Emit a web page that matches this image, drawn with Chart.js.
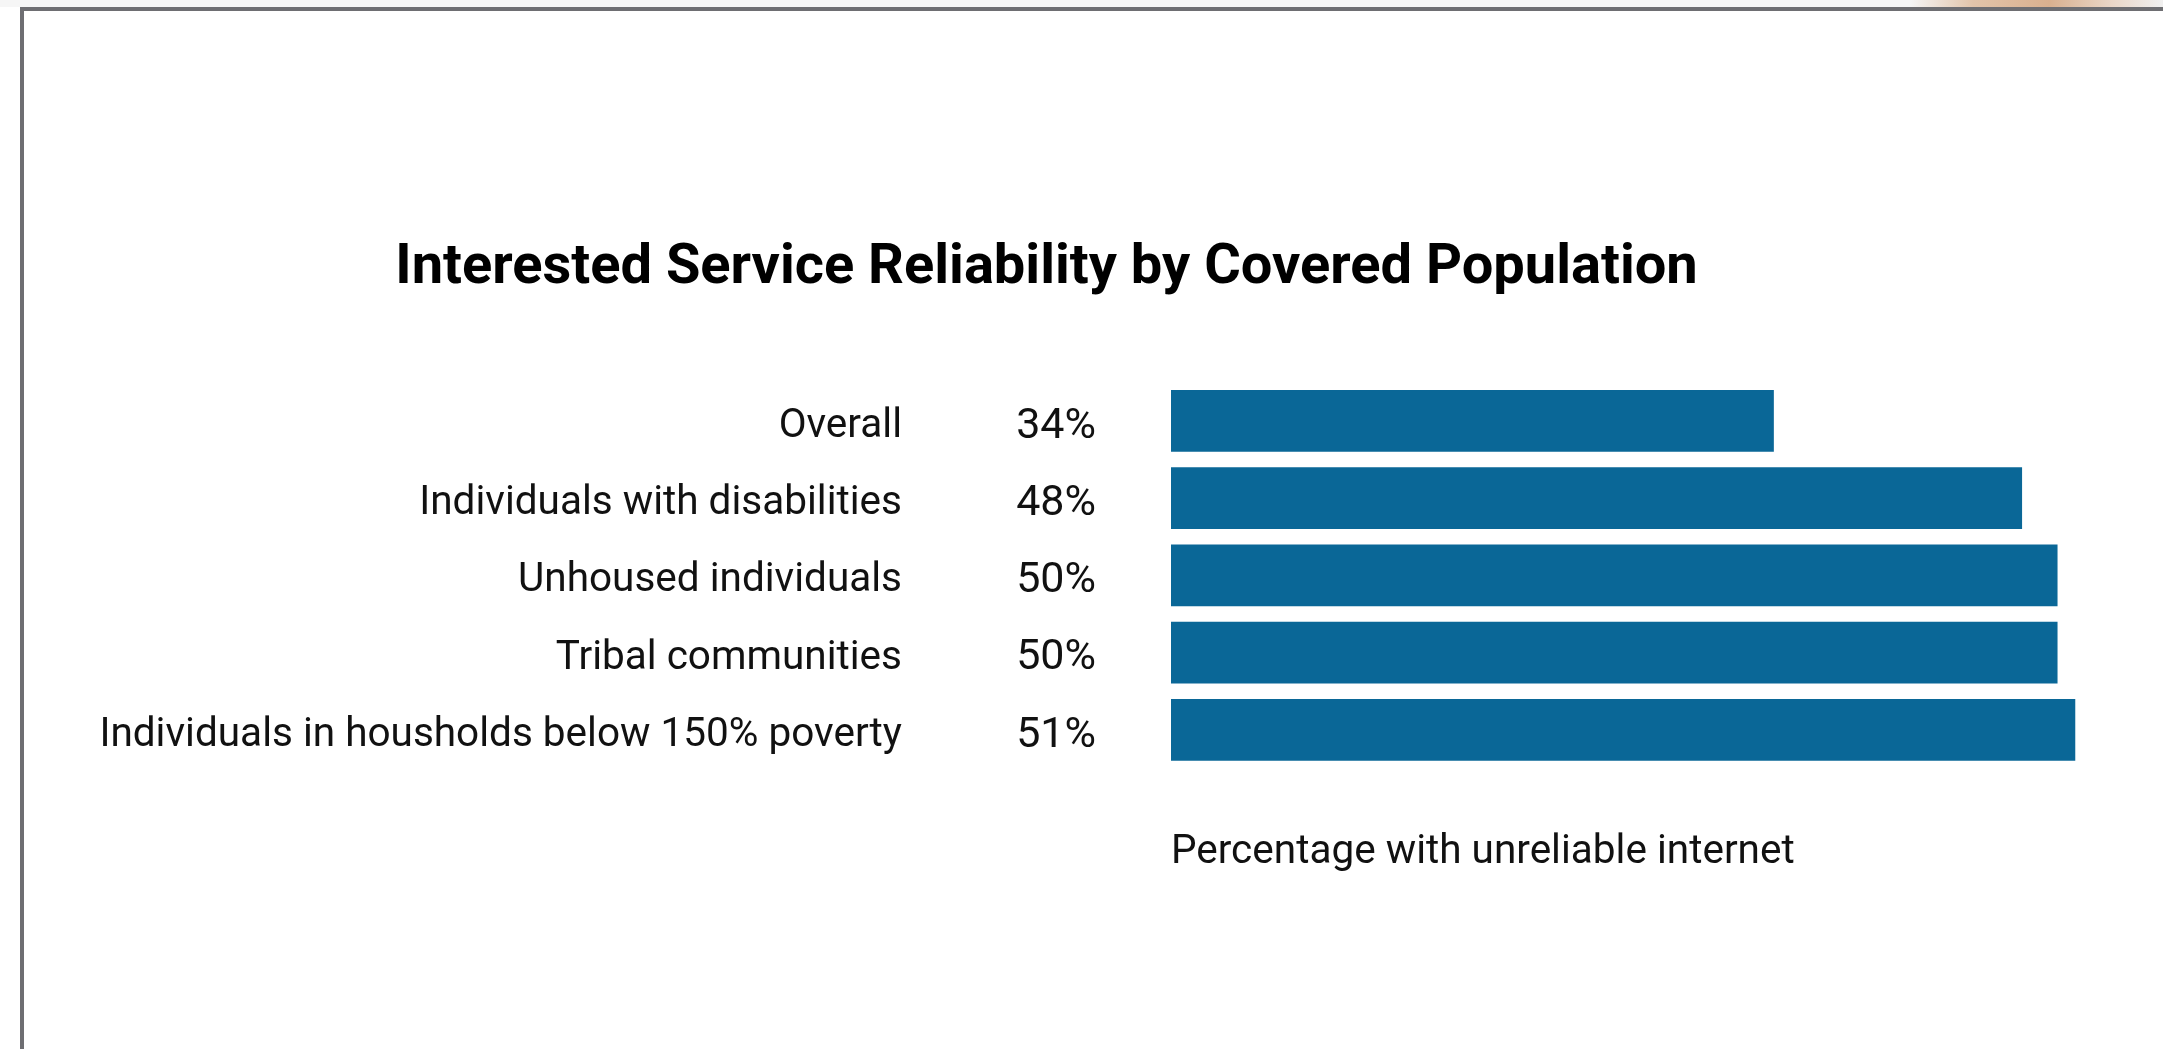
<!DOCTYPE html>
<html>
<head>
<meta charset="utf-8">
<script src="https://cdn.jsdelivr.net/npm/chart.js@4.4.1/dist/chart.umd.min.js"></script>
<style>
  html, body { margin: 0; padding: 0; background: #fff; }
  body { width: 2163px; height: 1049px; position: relative; overflow: hidden; }
  #strip { position: absolute; left: 0; top: 0; width: 2163px; height: 7px; background: #f6f6f6; }
  #blob { position: absolute; left: 1910px; top: 0; width: 253px; height: 7px;
          background: linear-gradient(to right, rgba(246,246,246,0), #e2c4aa 25%, #d9b08f 55%, #ead7c8 80%, #f0f0f0); }
  #frame { position: absolute; left: 20px; top: 7px; width: 2300px; height: 1200px;
           border-top: 4px solid #6e6e72; border-left: 4px solid #6e6e72; }
  canvas { position: absolute; left: 0; top: 0; }
</style>
</head>
<body>
<div id="strip"></div>
<div id="blob"></div>
<div id="frame"></div>
<canvas id="myChart" width="2163" height="1049"></canvas>
<script>
const categories = [
    'Overall',
    'Individuals with disabilities',
    'Unhoused individuals',
    'Tribal communities',
    'Individuals in housholds below 150% poverty'
];
const unreliablePct = [34, 48, 50, 50, 51];
const pctLabels = unreliablePct.map(v => v + '%');
const xMax = 52;

Chart.defaults.font.family = 'Roboto';
Chart.defaults.color = '#111';

const ctx = document.getElementById('myChart');

new Chart(ctx, {
    type: 'bar',
    data: {
        labels: categories,
        datasets: [
            {
                label: 'Percentage with unreliable internet',
                data: unreliablePct,
                backgroundColor: '#0a6797',
                borderWidth: 0,
                barPercentage: 0.8,
                categoryPercentage: 1,
                yAxisID: 'y',
            }
        ]
    },
    options: {
        indexAxis: 'y',
        responsive: false,
        animation: false,
        layout: {
            padding: { left: 0, right: 70, top: 0, bottom: 172 }
        },
        plugins: {
            legend: { display: false },
            tooltip: { enabled: false },
            title: {
                display: true,
                text: 'Interested Service Reliability by Covered Population',
                color: '#000',
                font: { size: 56, weight: 'bold' },
                padding: { top: 235, bottom: 80 }
            },
        },
        scales: {
            x: {
                min: 0,
                max: xMax,
                grid: { display: false, drawTicks: false },
                border: { display: false },
                ticks: { display: false },
                title: {
                    display: true,
                    text: 'Percentage with unreliable internet',
                    align: 'start',
                    color: '#111',
                    font: { size: 40.5 },
                    padding: { top: 60, bottom: 0 }
                }
            },
            // category names, outermost column
            y: {
                type: 'category',
                position: 'left',
                weight: 2,
                grid: { display: false, drawTicks: false },
                border: { display: false },
                ticks: { padding: 0, font: { size: 40.5 }, color: '#111', labelOffset: 6 },
                afterFit(scale) { scale.width = 902; }
            },
            // percentage column next to the bars
            y2: {
                type: 'category',
                position: 'left',
                weight: 1,
                labels: pctLabels,
                offset: true,
                grid: { display: false, drawTicks: false },
                border: { display: false },
                ticks: { padding: 75, font: { size: 43 }, color: '#111', labelOffset: 6 },
                afterFit(scale) { scale.width = 269; }
            }
        }
    },
});
</script>
</body>
</html>
